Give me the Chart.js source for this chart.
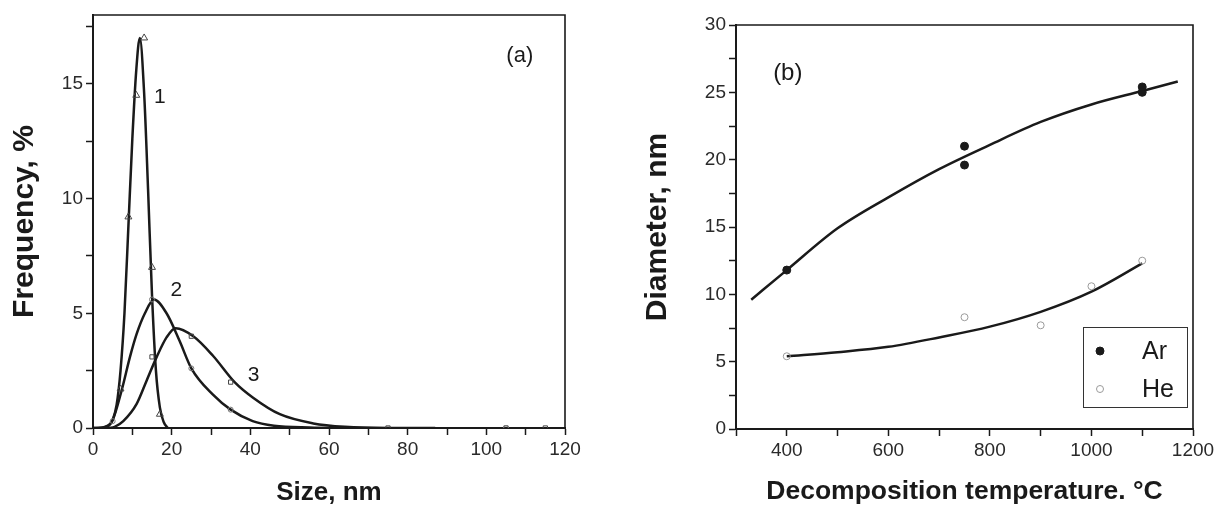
<!DOCTYPE html>
<html>
<head>
<meta charset="utf-8">
<script src="https://cdn.jsdelivr.net/npm/chart.js@4.4.1/dist/chart.umd.min.js"></script>
<style>
	html, body { margin: 0; padding: 0; background: #fff; }
	#wrap { position: relative; width: 1219px; height: 506px; }
	#pa { position: absolute; left: 0; top: 0; }
	#pb { position: absolute; left: 610px; top: 0; }
</style>
</head>
<body>
<div id="wrap">
	<canvas id="pa" width="610" height="506"></canvas>
	<canvas id="pb" width="609" height="506"></canvas>
</div>
<script>
// ---- panel (a): size distributions ----
const fit1X = [0, 2, 4, 5, 6, 7, 8, 9, 10, 11, 11.9, 13, 14, 15, 16, 17, 18, 19];
const fit1Y = [0, 0.01, 0.1, 0.35, 1.0, 2.5, 5.0, 8.8, 12.6, 15.6, 17.0, 14.6, 10.4, 5.8, 2.5, 0.9, 0.25, 0];
const fit2X = [0, 3, 5, 7.3, 9.4, 11.1, 13.2, 15.5, 18.7, 22, 25, 30.5, 35, 40.6, 46, 55, 65];
const fit2Y = [0, 0.05, 0.35, 1.65, 3.1, 4.1, 5.0, 5.6, 5.0, 3.8, 2.6, 1.45, 0.8, 0.3, 0.1, 0.02, 0];
const fit3X = [4, 5.5, 7.7, 11.1, 13.6, 16.2, 18.7, 21, 25.5, 30.5, 36, 40.7, 47.5, 56, 64, 75, 87];
const fit3Y = [0, 0.05, 0.3, 1.05, 2.05, 3.1, 3.95, 4.35, 4.0, 3.15, 2.0, 1.32, 0.6, 0.2, 0.05, 0, 0];

const pts1X = [7, 9, 11, 13, 15, 17];
const pts1Y = [1.7, 9.2, 14.5, 17.0, 7.0, 0.6];
const pts2X = [5, 15, 25, 35, 105];
const pts2Y = [0.3, 5.6, 2.6, 0.8, 0];
const pts3X = [15, 25, 35, 75, 105, 115];
const pts3Y = [3.1, 4.0, 2.0, 0, 0, 0];

// ---- panel (b): diameter vs temperature ----
const arTempX = [400, 750, 750, 1100, 1100];
const arDiam = [11.8, 21.0, 19.6, 25.0, 25.4];
const heTempX = [400, 750, 900, 1000, 1100];
const heDiam = [5.4, 8.3, 7.7, 10.6, 12.5];
const arFitX = [330, 400, 500, 600, 700, 800, 900, 1000, 1100, 1170];
const arFitY = [9.6, 11.8, 14.9, 17.2, 19.3, 21.1, 22.8, 24.1, 25.1, 25.8];
const heFitX = [400, 500, 600, 700, 800, 900, 1000, 1100];
const heFitY = [5.4, 5.7, 6.1, 6.8, 7.6, 8.7, 10.2, 12.3];

const FONT = "Arial, 'Liberation Sans', Helvetica, sans-serif";
const INK = "#1a1a1a";

function toPoints(xs, ys) {
	return xs.map((x, i) => ({ x: x, y: ys[i] }));
}

function fitLine(xs, ys) {
	return {
		data: toPoints(xs, ys),
		showLine: true,
		borderColor: INK,
		borderWidth: 2.5,
		pointRadius: 0,
		cubicInterpolationMode: "monotone",
		fill: false,
	};
}

function markers(xs, ys, style, radius, fill, stroke) {
	return {
		data: toPoints(xs, ys),
		showLine: false,
		pointStyle: style,
		pointRadius: radius,
		pointBackgroundColor: fill,
		pointBorderColor: stroke,
		pointBorderWidth: 1,
	};
}

function axis(min, max, step, labelStep, title, titleSize, titlePad, fit) {
	return {
		type: "linear",
		min: min,
		max: max,
		border: { display: true, color: INK, width: 2 },
		grid: { drawOnChartArea: false, drawTicks: true, tickLength: 7, tickColor: INK, tickWidth: 1.5 },
		ticks: {
			stepSize: step,
			includeBounds: false,
			autoSkip: false,
			maxRotation: 0,
			padding: 3,
			color: "#2a2a2a",
			font: { family: FONT, size: 19 },
			callback: (v) => (Math.abs(v / labelStep - Math.round(v / labelStep)) < 1e-6 ? String(v) : ""),
		},
		title: {
			display: true,
			text: title,
			color: INK,
			padding: titlePad,
			font: { family: FONT, size: titleSize, weight: "bold", lineHeight: 1.2 },
		},
		afterFit: fit,
	};
}

// frame on top/right plus free text notes
const framePlugin = {
	id: "frame",
	afterDraw(chart, args, opts) {
		const { ctx, chartArea: a, scales } = chart;
		ctx.save();
		ctx.strokeStyle = INK;
		ctx.lineWidth = 1.6;
		ctx.beginPath();
		ctx.moveTo(a.left, a.top);
		ctx.lineTo(a.right, a.top);
		ctx.lineTo(a.right, a.bottom);
		ctx.stroke();
		ctx.fillStyle = INK;
		ctx.textAlign = "center";
		ctx.textBaseline = "middle";
		for (const n of opts.notes || []) {
			ctx.font = `${n.size}px ${FONT}`;
			ctx.fillText(n.text, scales.x.getPixelForValue(n.x), scales.y.getPixelForValue(n.y));
		}
		ctx.restore();
	},
};

// boxed legend inside the plot (panel b)
const boxLegend = {
	id: "boxLegend",
	afterDraw(chart, args, opts) {
		if (!opts.box) {
			return;
		}
		const { ctx } = chart;
		const b = opts.box;
		ctx.save();
		ctx.strokeStyle = "#333";
		ctx.lineWidth = 1;
		ctx.strokeRect(b.x + 0.5, b.y + 0.5, b.w, b.h);
		ctx.font = `25px ${FONT}`;
		ctx.textBaseline = "middle";
		ctx.textAlign = "left";
		opts.items.forEach((it, i) => {
			const ds = chart.data.datasets[it.index];
			const cy = b.y + 24 + i * 38;
			ctx.beginPath();
			ctx.arc(b.x + 17, cy, ds.pointRadius, 0, Math.PI * 2);
			ctx.fillStyle = ds.pointBackgroundColor;
			ctx.fill();
			ctx.strokeStyle = ds.pointBorderColor;
			ctx.lineWidth = 1;
			ctx.stroke();
			ctx.fillStyle = INK;
			ctx.fillText(ds.label, b.x + 59, cy + 1);
		});
		ctx.restore();
	},
};

new Chart(document.getElementById("pa"), {
	type: "scatter",
	data: {
		datasets: [
			markers(pts1X, pts1Y, "triangle", 4, "rgba(255,255,255,0)", "#444"),
			markers(pts2X, pts2Y, "circle", 2.5, "rgba(255,255,255,0)", "#777"),
			markers(pts3X, pts3Y, "rect", 3, "rgba(255,255,255,0)", "#444"),
			fitLine(fit1X, fit1Y),
			fitLine(fit2X, fit2Y),
			fitLine(fit3X, fit3Y),
		],
	},
	options: {
		responsive: false,
		animation: false,
		events: [],
		layout: { padding: { top: 15, right: 45, left: 0, bottom: 0 } },
		scales: {
			x: axis(0, 120, 10, 20, "Size, nm", 26, { top: 0, bottom: -2 }, (s) => { s.height = 78; }),
			y: axis(0, 18, 2.5, 5, "Frequency, %", 30, { top: 7, bottom: 0 }, (s) => { s.width = 93; }),
		},
		plugins: {
			legend: { display: false },
			tooltip: { enabled: false },
			frame: {
				notes: [
					{ text: "(a)", x: 108.5, y: 16.2, size: 22 },
					{ text: "1", x: 17.0, y: 14.4, size: 21 },
					{ text: "2", x: 21.2, y: 6.0, size: 21 },
					{ text: "3", x: 40.8, y: 2.3, size: 21 },
				],
			},
		},
	},
	plugins: [framePlugin],
});

const arSet = markers(arTempX, arDiam, "circle", 4, INK, INK);
arSet.label = "Ar";
const heSet = markers(heTempX, heDiam, "circle", 3.5, "rgba(255,255,255,0)", "#9a9a9a");
heSet.label = "He";

new Chart(document.getElementById("pb"), {
	type: "scatter",
	data: {
		datasets: [arSet, heSet, fitLine(arFitX, arFitY), fitLine(heFitX, heFitY)],
	},
	options: {
		responsive: false,
		animation: false,
		events: [],
		layout: { padding: { top: 25, right: 26, left: 0, bottom: 0 } },
		scales: {
			x: axis(300, 1200, 100, 200, "Decomposition temperature. \u00B0C", 26.5, { top: 0, bottom: -2 }, (s) => { s.height = 77; }),
			y: axis(0, 30, 2.5, 5, "Diameter, nm", 30, { top: 30, bottom: 0 }, (s) => { s.width = 126; }),
		},
		plugins: {
			legend: { display: false },
			tooltip: { enabled: false },
			frame: {
				notes: [{ text: "(b)", x: 402, y: 26.4, size: 24 }],
			},
			boxLegend: {
				box: { x: 473, y: 327, w: 104, h: 80 },
				items: [{ index: 0 }, { index: 1 }],
			},
		},
	},
	plugins: [framePlugin, boxLegend],
});
</script>
</body>
</html>
